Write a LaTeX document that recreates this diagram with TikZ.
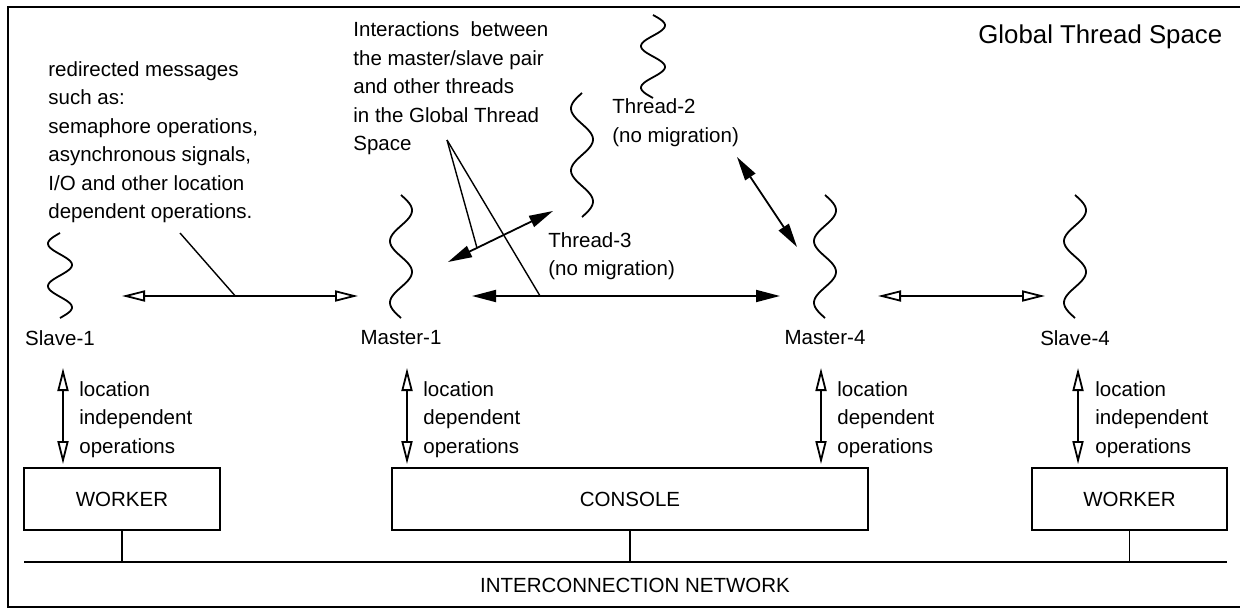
\documentclass[tikz,border=0pt]{standalone}
\usepackage{fontspec}
\setmainfont{Liberation Sans}
\usepackage{tikz}
\usetikzlibrary{arrows.meta,positioning,calc}
\newcommand{\threadline}[5]{%
  \draw[wave] plot[domain=0:#4,samples=80,smooth] ({#2+(#5)*sin(720*(\x/#4))},{#3+\x});
  \coordinate (#1) at (#2,{#3+#4});}

\begin{document}
\begin{tikzpicture}[
  x=0.5pt,y=-0.5pt,
  font=\fontsize{10.25}{14.25}\selectfont,
  txt/.style={inner sep=0pt,align=left,anchor=west},
  lbl/.style={inner sep=0pt},
  unit/.style={draw,line width=0.9pt,inner sep=0pt,minimum height=31pt},
  wave/.style={line width=0.9pt},
  msg/.style={{Triangle[open,length=11.5pt,width=5.5pt]}-{Triangle[open,length=11.5pt,width=5.5pt]},line width=0.9pt},
  link/.style={{Triangle[length=12pt,width=6pt]}-{Triangle[length=12pt,width=6pt]},line width=0.9pt},
  lead/.style={line width=0.7pt}
]
\useasboundingbox (0,0) rectangle (1240,609);
\draw[line width=1pt] (1240,7) -- (8,7) -- (8,607) -- (1240,607);
\node[txt,font=\fontsize{12.9}{15}\selectfont] (gts) at (978,37) {Global Thread Space};

\threadline{s1}{60}{233}{85}{-12}
\threadline{m1}{401}{195}{123}{11}
\threadline{t3}{582}{93}{124}{-11}
\threadline{t2}{653}{15}{83}{12}
\threadline{m4}{825}{195}{123}{11}
\threadline{s4}{1075}{195}{123}{11}

\node[lbl,below=6pt of s1] (s1lab) {Slave-1};
\node[lbl,below=6pt of m1] (m1lab) {Master-1};
\node[lbl,below=6pt of m4] (m4lab) {Master-4};
\node[lbl,below=6pt of s4] (s4lab) {Slave-4};
\node[txt] (t2txt) at (612,122.5) {Thread-2\\(no migration)};
\node[txt] (t3txt) at (548,256) {Thread-3\\(no migration)};

\node[txt] (redir) at (48,142) {redirected messages\\such as:\\semaphore operations,\\asynchronous signals,\\I/O and other location\\dependent operations.};
\node[txt] (inter) at (353,88.5) {Interactions\ \ between\\the master/slave pair\\and other threads\\in the Global Thread\\Space};

\coordinate (sm1) at (122,296);
\coordinate (ms1) at (358,296);
\coordinate (mm1) at (472,296);
\coordinate (mm4) at (780,296);
\coordinate (ms4) at (878,296);
\coordinate (sm4) at (1045,296);
\coordinate (mt3) at (448,262);
\coordinate (tm1) at (553,211);
\coordinate (tm2) at (737,157);
\coordinate (mt2) at (797,247);
\draw[msg] (sm1) -- (ms1);
\draw[link] (mm1) -- (mm4);
\draw[msg] (ms4) -- (sm4);
\draw[link] (mt3) -- (tm1);
\draw[link] (tm2) -- (mt2);

\coordinate (redirpt) at (180,233);
\coordinate (interpt) at (447,140);
\draw[lead] (redirpt) -- ($(sm1)!.48!(ms1)$);
\draw[lead] (interpt) -- ($(mt3)!.276!(tm1)$);
\draw[lead] (interpt) -- ($(mm1)!.221!(mm4)$);

\node[unit,minimum width=98pt] (wk1) at (122,499) {WORKER};
\node[unit,minimum width=238pt] (con) at (630,499) {CONSOLE};
\node[unit,minimum width=97.5pt] (wk4) at (1129.5,499) {WORKER};

\coordinate (s1op) at (63,368);
\coordinate (m1op) at (407,368);
\coordinate (m4op) at (821,368);
\coordinate (s4op) at (1078,368);
\draw[msg,shorten >=1.5pt] (s1op) -- (s1op |- wk1.north);
\draw[msg,shorten >=1.5pt] (m1op) -- (m1op |- con.north);
\draw[msg,shorten >=1.5pt] (m4op) -- (m4op |- con.north);
\draw[msg,shorten >=1.5pt] (s4op) -- (s4op |- wk4.north);
\node[txt] (s1ops) at (79,419.5) {location\\independent\\operations};
\node[txt] (m1ops) at (423,419.5) {location\\dependent\\operations};
\node[txt] (m4ops) at (837,419.5) {location\\dependent\\operations};
\node[txt] (s4ops) at (1095,419.5) {location\\independent\\operations};

\coordinate (netl) at (24,562);
\coordinate (netr) at (1227,562);
\draw[line width=0.9pt] (netl) -- (netr);
\draw[line width=0.9pt] (wk1.south) -- (wk1.south |- netl);
\draw[line width=0.9pt] (con.south) -- (con.south |- netl);
\draw[line width=0.9pt] (wk4.south) -- (wk4.south |- netl);
\node[lbl] (net) at (635,585) {INTERCONNECTION NETWORK};
\end{tikzpicture}
\end{document}
